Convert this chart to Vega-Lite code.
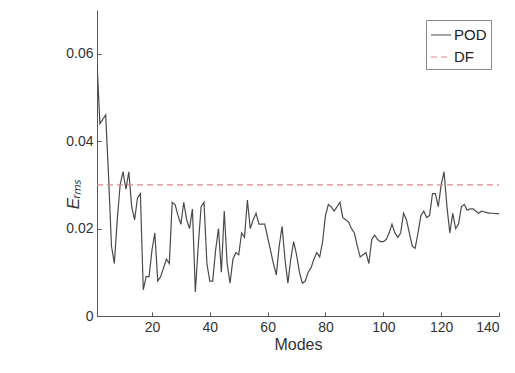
{
  "$schema": "https://vega.github.io/schema/vega-lite/v6.json",
  "width": 402,
  "height": 306,
  "autosize": "none",
  "padding": {"left": 97, "top": 10, "right": 16, "bottom": 57},
  "background": "white",
  "config": {
    "view": {"stroke": null},
    "font": "Liberation Sans"
  },
  "data": {
    "values": [
      {"mode": 1, "erms": 0.058, "series": "POD"},
      {"mode": 2, "erms": 0.044, "series": "POD"},
      {"mode": 3, "erms": 0.045, "series": "POD"},
      {"mode": 4, "erms": 0.046, "series": "POD"},
      {"mode": 5, "erms": 0.032, "series": "POD"},
      {"mode": 6, "erms": 0.016, "series": "POD"},
      {"mode": 7, "erms": 0.012, "series": "POD"},
      {"mode": 8, "erms": 0.022, "series": "POD"},
      {"mode": 9, "erms": 0.030, "series": "POD"},
      {"mode": 10, "erms": 0.033, "series": "POD"},
      {"mode": 11, "erms": 0.029, "series": "POD"},
      {"mode": 12, "erms": 0.033, "series": "POD"},
      {"mode": 13, "erms": 0.025, "series": "POD"},
      {"mode": 14, "erms": 0.022, "series": "POD"},
      {"mode": 15, "erms": 0.027, "series": "POD"},
      {"mode": 16, "erms": 0.028, "series": "POD"},
      {"mode": 17, "erms": 0.006, "series": "POD"},
      {"mode": 18, "erms": 0.009, "series": "POD"},
      {"mode": 19, "erms": 0.009, "series": "POD"},
      {"mode": 20, "erms": 0.015, "series": "POD"},
      {"mode": 21, "erms": 0.019, "series": "POD"},
      {"mode": 22, "erms": 0.008, "series": "POD"},
      {"mode": 23, "erms": 0.009, "series": "POD"},
      {"mode": 24, "erms": 0.011, "series": "POD"},
      {"mode": 25, "erms": 0.013, "series": "POD"},
      {"mode": 26, "erms": 0.012, "series": "POD"},
      {"mode": 27, "erms": 0.026, "series": "POD"},
      {"mode": 28, "erms": 0.0255, "series": "POD"},
      {"mode": 29, "erms": 0.023, "series": "POD"},
      {"mode": 30, "erms": 0.021, "series": "POD"},
      {"mode": 31, "erms": 0.026, "series": "POD"},
      {"mode": 32, "erms": 0.022, "series": "POD"},
      {"mode": 33, "erms": 0.020, "series": "POD"},
      {"mode": 34, "erms": 0.0245, "series": "POD"},
      {"mode": 35, "erms": 0.0055, "series": "POD"},
      {"mode": 36, "erms": 0.016, "series": "POD"},
      {"mode": 37, "erms": 0.025, "series": "POD"},
      {"mode": 38, "erms": 0.026, "series": "POD"},
      {"mode": 39, "erms": 0.012, "series": "POD"},
      {"mode": 40, "erms": 0.008, "series": "POD"},
      {"mode": 41, "erms": 0.008, "series": "POD"},
      {"mode": 42, "erms": 0.015, "series": "POD"},
      {"mode": 43, "erms": 0.020, "series": "POD"},
      {"mode": 44, "erms": 0.010, "series": "POD"},
      {"mode": 45, "erms": 0.024, "series": "POD"},
      {"mode": 46, "erms": 0.012, "series": "POD"},
      {"mode": 47, "erms": 0.0075, "series": "POD"},
      {"mode": 48, "erms": 0.013, "series": "POD"},
      {"mode": 49, "erms": 0.0145, "series": "POD"},
      {"mode": 50, "erms": 0.014, "series": "POD"},
      {"mode": 51, "erms": 0.019, "series": "POD"},
      {"mode": 52, "erms": 0.018, "series": "POD"},
      {"mode": 53, "erms": 0.0265, "series": "POD"},
      {"mode": 54, "erms": 0.020, "series": "POD"},
      {"mode": 55, "erms": 0.022, "series": "POD"},
      {"mode": 56, "erms": 0.0235, "series": "POD"},
      {"mode": 57, "erms": 0.021, "series": "POD"},
      {"mode": 58, "erms": 0.021, "series": "POD"},
      {"mode": 59, "erms": 0.021, "series": "POD"},
      {"mode": 60, "erms": 0.018, "series": "POD"},
      {"mode": 61, "erms": 0.015, "series": "POD"},
      {"mode": 62, "erms": 0.012, "series": "POD"},
      {"mode": 63, "erms": 0.0094, "series": "POD"},
      {"mode": 64, "erms": 0.016, "series": "POD"},
      {"mode": 65, "erms": 0.0205, "series": "POD"},
      {"mode": 66, "erms": 0.013, "series": "POD"},
      {"mode": 67, "erms": 0.0075, "series": "POD"},
      {"mode": 68, "erms": 0.013, "series": "POD"},
      {"mode": 69, "erms": 0.017, "series": "POD"},
      {"mode": 70, "erms": 0.014, "series": "POD"},
      {"mode": 71, "erms": 0.010, "series": "POD"},
      {"mode": 72, "erms": 0.0075, "series": "POD"},
      {"mode": 73, "erms": 0.008, "series": "POD"},
      {"mode": 74, "erms": 0.010, "series": "POD"},
      {"mode": 75, "erms": 0.011, "series": "POD"},
      {"mode": 76, "erms": 0.013, "series": "POD"},
      {"mode": 77, "erms": 0.0145, "series": "POD"},
      {"mode": 78, "erms": 0.0135, "series": "POD"},
      {"mode": 79, "erms": 0.017, "series": "POD"},
      {"mode": 80, "erms": 0.023, "series": "POD"},
      {"mode": 81, "erms": 0.0255, "series": "POD"},
      {"mode": 82, "erms": 0.025, "series": "POD"},
      {"mode": 83, "erms": 0.024, "series": "POD"},
      {"mode": 84, "erms": 0.025, "series": "POD"},
      {"mode": 85, "erms": 0.026, "series": "POD"},
      {"mode": 86, "erms": 0.0225, "series": "POD"},
      {"mode": 87, "erms": 0.022, "series": "POD"},
      {"mode": 88, "erms": 0.0215, "series": "POD"},
      {"mode": 89, "erms": 0.020, "series": "POD"},
      {"mode": 90, "erms": 0.019, "series": "POD"},
      {"mode": 91, "erms": 0.016, "series": "POD"},
      {"mode": 92, "erms": 0.0135, "series": "POD"},
      {"mode": 93, "erms": 0.014, "series": "POD"},
      {"mode": 94, "erms": 0.0145, "series": "POD"},
      {"mode": 95, "erms": 0.012, "series": "POD"},
      {"mode": 96, "erms": 0.0175, "series": "POD"},
      {"mode": 97, "erms": 0.0185, "series": "POD"},
      {"mode": 98, "erms": 0.0175, "series": "POD"},
      {"mode": 99, "erms": 0.017, "series": "POD"},
      {"mode": 100, "erms": 0.017, "series": "POD"},
      {"mode": 101, "erms": 0.0175, "series": "POD"},
      {"mode": 102, "erms": 0.019, "series": "POD"},
      {"mode": 103, "erms": 0.021, "series": "POD"},
      {"mode": 104, "erms": 0.019, "series": "POD"},
      {"mode": 105, "erms": 0.018, "series": "POD"},
      {"mode": 106, "erms": 0.019, "series": "POD"},
      {"mode": 107, "erms": 0.0235, "series": "POD"},
      {"mode": 108, "erms": 0.022, "series": "POD"},
      {"mode": 109, "erms": 0.019, "series": "POD"},
      {"mode": 110, "erms": 0.016, "series": "POD"},
      {"mode": 111, "erms": 0.0155, "series": "POD"},
      {"mode": 112, "erms": 0.019, "series": "POD"},
      {"mode": 113, "erms": 0.023, "series": "POD"},
      {"mode": 114, "erms": 0.024, "series": "POD"},
      {"mode": 115, "erms": 0.0225, "series": "POD"},
      {"mode": 116, "erms": 0.023, "series": "POD"},
      {"mode": 117, "erms": 0.028, "series": "POD"},
      {"mode": 118, "erms": 0.028, "series": "POD"},
      {"mode": 119, "erms": 0.025, "series": "POD"},
      {"mode": 120, "erms": 0.030, "series": "POD"},
      {"mode": 121, "erms": 0.033, "series": "POD"},
      {"mode": 122, "erms": 0.025, "series": "POD"},
      {"mode": 123, "erms": 0.019, "series": "POD"},
      {"mode": 124, "erms": 0.0235, "series": "POD"},
      {"mode": 125, "erms": 0.020, "series": "POD"},
      {"mode": 126, "erms": 0.021, "series": "POD"},
      {"mode": 127, "erms": 0.025, "series": "POD"},
      {"mode": 128, "erms": 0.0255, "series": "POD"},
      {"mode": 129, "erms": 0.0242, "series": "POD"},
      {"mode": 130, "erms": 0.0245, "series": "POD"},
      {"mode": 131, "erms": 0.0245, "series": "POD"},
      {"mode": 132, "erms": 0.024, "series": "POD"},
      {"mode": 133, "erms": 0.0235, "series": "POD"},
      {"mode": 134, "erms": 0.024, "series": "POD"},
      {"mode": 135, "erms": 0.0238, "series": "POD"},
      {"mode": 136, "erms": 0.0236, "series": "POD"},
      {"mode": 137, "erms": 0.0235, "series": "POD"},
      {"mode": 138, "erms": 0.0235, "series": "POD"},
      {"mode": 139, "erms": 0.0234, "series": "POD"},
      {"mode": 140, "erms": 0.0234, "series": "POD"},
      {"mode": 1, "erms": 0.030, "series": "DF"},
      {"mode": 140, "erms": 0.030, "series": "DF"}
    ]
  },
  "mark": {"type": "line", "strokeWidth": 1.2, "clip": true},
  "encoding": {
    "x": {
      "field": "mode",
      "type": "quantitative",
      "scale": {"domain": [1, 140], "nice": false, "zero": false},
      "axis": {
        "title": "Modes",
        "values": [20, 40, 60, 80, 100, 120, 140],
        "grid": false,
        "tickSize": -4,
        "labelPadding": 8,
        "labelFontSize": 14,
        "labelColor": "#333",
        "titleFontSize": 16,
        "titleFontWeight": "normal",
        "titleColor": "#333",
        "titlePadding": 2,
        "domainColor": "#555",
        "tickColor": "#555"
      }
    },
    "y": {
      "field": "erms",
      "type": "quantitative",
      "scale": {"domain": [0, 0.07], "nice": false},
      "axis": {
        "title": "Eᵣₘₛ",
        "values": [0, 0.02, 0.04, 0.06],
        "format": ".2~f",
        "grid": false,
        "tickSize": -4,
        "labelPadding": 8,
        "labelFontSize": 14,
        "labelColor": "#333",
        "titleFontSize": 17,
        "titleFontWeight": "normal",
        "titleFontStyle": "italic",
        "titleColor": "#333",
        "titleX": -15,
        "titleY": 184,
        "domainColor": "#555",
        "tickColor": "#555"
      }
    },
    "color": {
      "field": "series",
      "type": "nominal",
      "sort": ["POD", "DF"],
      "scale": {"domain": ["POD", "DF"], "range": ["#4a4a4a", "#d98a8c"]},
      "legend": {
        "title": null,
        "orient": "none",
        "legendX": 329,
        "legendY": 10,
        "symbolType": "stroke",
        "symbolSize": 400,
        "symbolStrokeWidth": 1.2,
        "labelFontSize": 15,
        "labelColor": "#222",
        "strokeColor": "#888",
        "fillColor": "white",
        "padding": 4,
        "rowPadding": 3,
        "labelOffset": 2
      }
    },
    "strokeDash": {
      "field": "series",
      "type": "nominal",
      "sort": ["POD", "DF"],
      "scale": {"domain": ["POD", "DF"], "range": [[1, 0], [6, 4]]},
      "legend": {
        "title": null,
        "orient": "none",
        "legendX": 329,
        "legendY": 10
      }
    }
  }
}
